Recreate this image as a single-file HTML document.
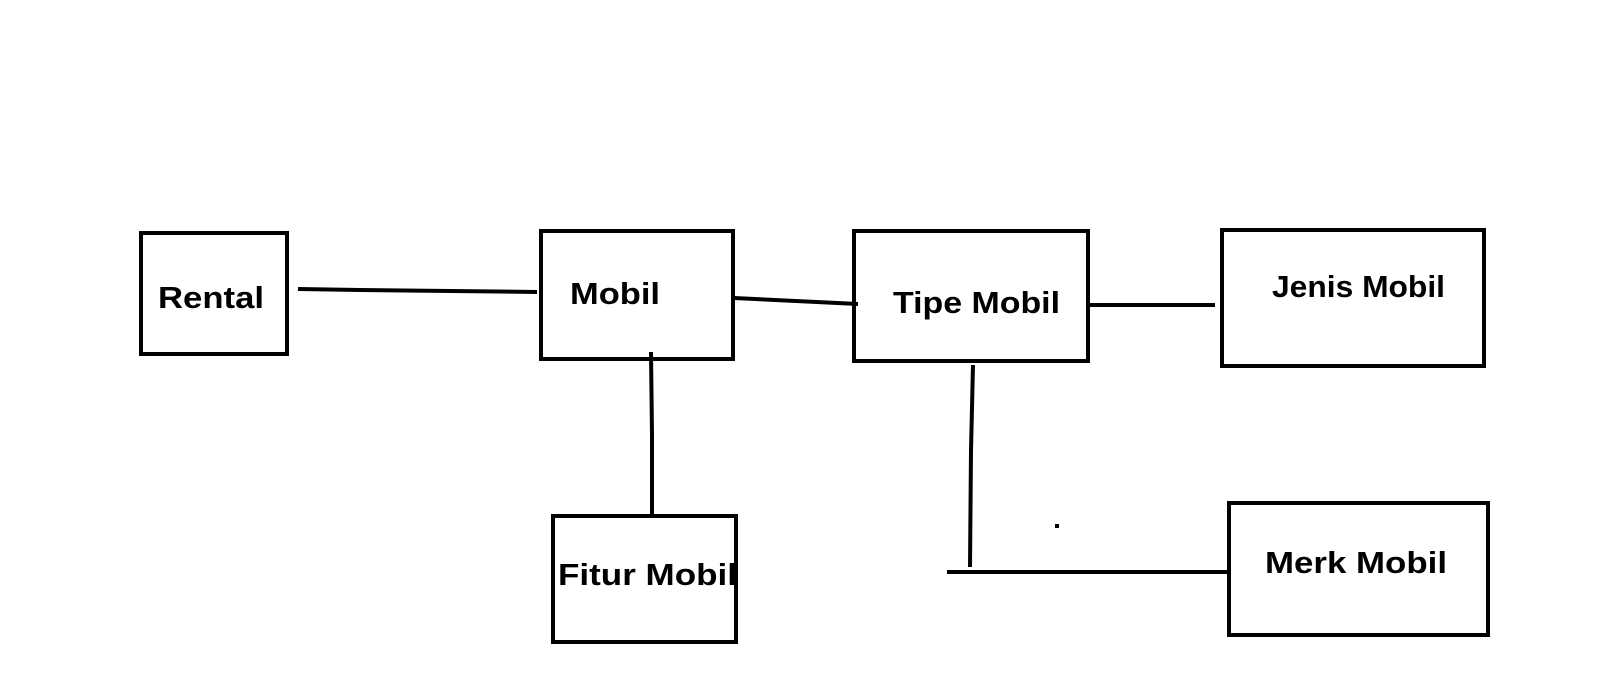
<!DOCTYPE html>
<html><head><meta charset="utf-8"><style>
html,body{margin:0;padding:0;background:#fff;}
svg{display:block;}
text{font-family:"Liberation Sans",sans-serif;font-weight:bold;font-size:31px;fill:#000;}
</style></head><body>
<svg width="1600" height="699" viewBox="0 0 1600 699" xmlns="http://www.w3.org/2000/svg">
<g fill="none" stroke="#000" stroke-width="4">
<rect x="141" y="233" width="146" height="121"/>
<rect x="541" y="231" width="192" height="128"/>
<rect x="854" y="231" width="234" height="130"/>
<rect x="1222" y="230" width="262" height="136"/>
<rect x="553" y="516" width="183" height="126"/>
<rect x="1229" y="503" width="259" height="132"/>
<polyline points="298,289 360,290 537,292"/>
<line x1="734" y1="298" x2="858" y2="304"/>
<line x1="1089" y1="305" x2="1215" y2="305"/>
<polyline points="651,352 652,435 652,515"/>
<polyline points="973,365 971,450 970,567"/>
<polyline points="947,572 1090,572 1228,572"/>
</g>
<rect x="1055" y="524" width="4" height="4" fill="#000"/>
<text x="158" y="308" textLength="106" lengthAdjust="spacingAndGlyphs">Rental</text>
<text x="570" y="304" textLength="90" lengthAdjust="spacingAndGlyphs">Mobil</text>
<text x="893" y="313" textLength="167" lengthAdjust="spacingAndGlyphs">Tipe Mobil</text>
<text x="1272" y="297" textLength="173" lengthAdjust="spacingAndGlyphs">Jenis Mobil</text>
<text x="558" y="585" textLength="179" lengthAdjust="spacingAndGlyphs">Fitur Mobil</text>
<text x="1265" y="573" textLength="182" lengthAdjust="spacingAndGlyphs">Merk Mobil</text>
</svg>
</body></html>
